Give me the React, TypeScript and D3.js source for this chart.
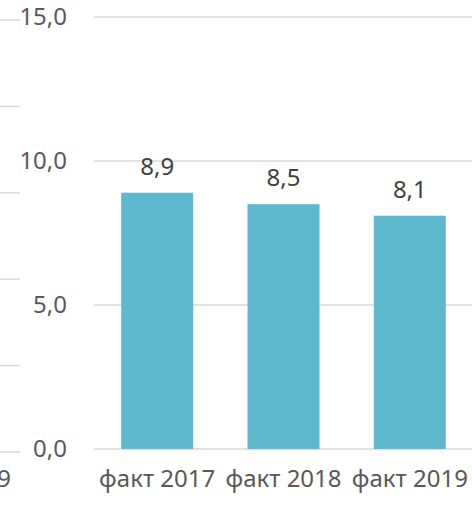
import React from "react";
import * as d3 from "d3";

// chart values
const categories = ["факт 2017", "факт 2018", "факт 2019"];
const values = [8.9, 8.5, 8.1];
const yTicks = [0, 5, 10, 15];

// cropped neighbour chart on the left edge
const ghostTicks = [0, 5, 10, 15, 20, 25];
const ghostLabel = "факт 2019";

const W = 472;
const H = 506;
const FONT = "'Noto Sans', 'Open Sans', sans-serif";
const FS = 24;
const fmt = (v: number) => v.toFixed(1).replace(".", ",");

const App = () => {
  const margin = { top: 17, bottom: 57, left: 94, right: -1 };

  const y = d3
    .scaleLinear()
    .domain([0, 15])
    .range([H - margin.bottom, margin.top]);

  const x = d3
    .scaleBand<string>()
    .domain(categories)
    .range([margin.left, W - margin.right])
    .paddingInner(0.43)
    .paddingOuter(0.215);

  const ghostY = d3.scaleLinear().domain([0, 25]).range([452, 20]);

  return (
    <svg
      width={W}
      height={H}
      style={{ position: "absolute", left: 0, top: 0, background: "#fff" }}
      fontFamily={FONT}
    >
      {/* left-over gridlines of the chart next door */}
      {ghostTicks.map((t) => (
        <line
          key={"g" + t}
          x1={0}
          x2={20}
          y1={ghostY(t)}
          y2={ghostY(t)}
          stroke="#d9d9d9"
          strokeWidth={1.5}
        />
      ))}
      <text x={11} y={487} textAnchor="end" fontSize={FS} fill="#595959">
        {ghostLabel}
      </text>

      {/* gridlines + y tick labels */}
      {yTicks.map((t) => (
        <g key={t}>
          <line
            x1={margin.left}
            x2={W}
            y1={y(t)}
            y2={y(t)}
            stroke="#d9d9d9"
            strokeWidth={1.5}
          />
          <text
            x={67}
            y={y(t)}
            dy="0.35em"
            textAnchor="end"
            fontSize={FS}
            fill="#595959"
          >
            {fmt(t)}
          </text>
        </g>
      ))}

      {/* bars */}
      {categories.map((c, i) => (
        <g key={c}>
          <rect
            x={x(c)}
            y={y(values[i])}
            width={x.bandwidth()}
            height={y(0) - y(values[i])}
            fill="#5fb8ce"
          />
          <text
            x={(x(c) ?? 0) + x.bandwidth() / 2}
            y={y(values[i]) - 18}
            textAnchor="middle"
            fontSize={FS}
            fill="#404040"
          >
            {fmt(values[i])}
          </text>
          <text
            x={(x(c) ?? 0) + x.bandwidth() / 2}
            y={487}
            textAnchor="middle"
            fontSize={FS}
            fill="#595959"
          >
            {c}
          </text>
        </g>
      ))}
    </svg>
  );
};

export default App;
